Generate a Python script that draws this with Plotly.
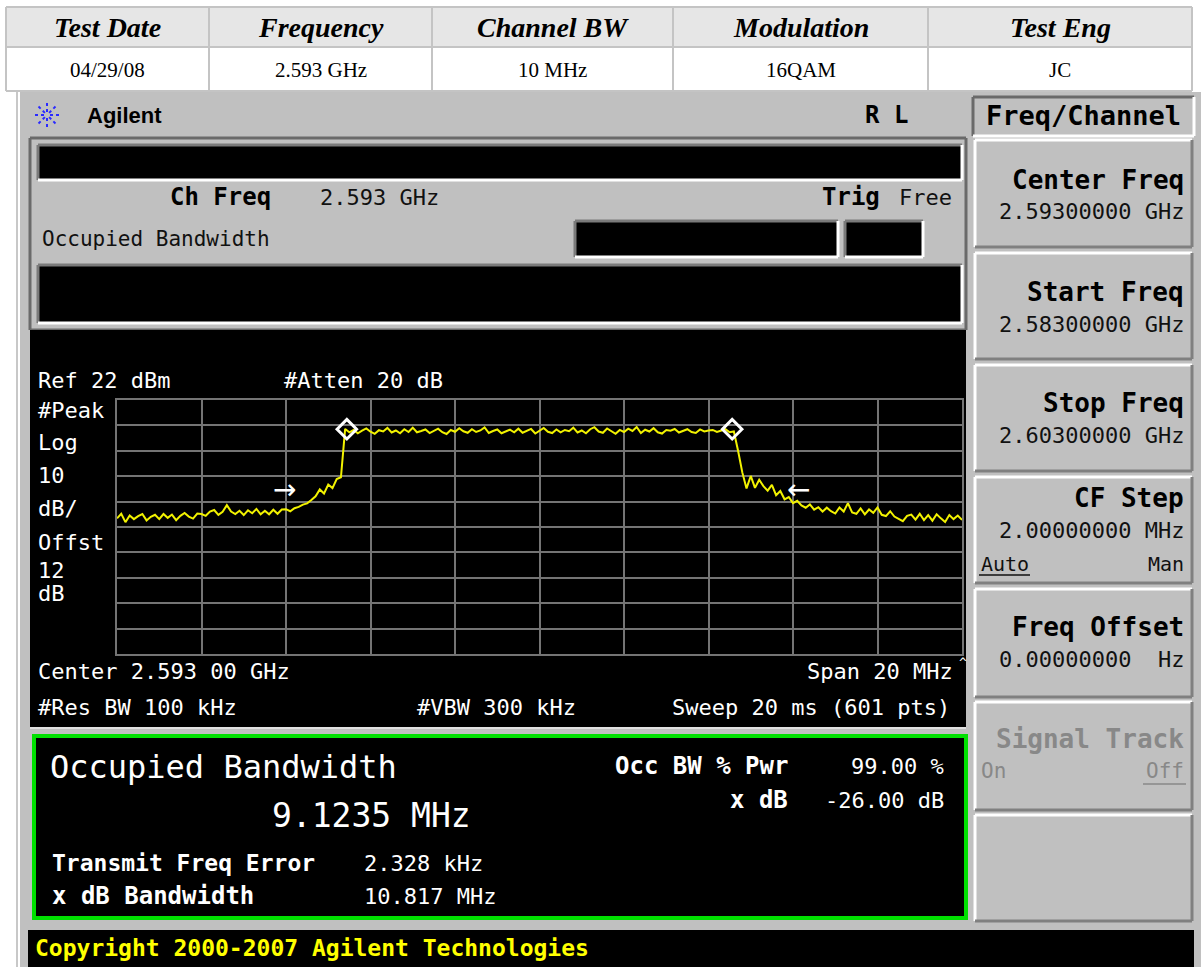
import numpy as np
import plotly.graph_objects as go

W, H = 1201, 967

# ---------------- data ----------------
table_headers = ["Test Date", "Frequency", "Channel BW", "Modulation", "Test Eng"]
table_values = ["04/29/08", "2.593 GHz", "10 MHz", "16QAM", "JC"]

start_freq_ghz = 2.583
stop_freq_ghz = 2.603
ref_level_dbm = 22
db_per_div = 10

trace_dbm = [
    -24.6, -22.8, -26.1, -23.5, -24.9, -23.7, -22.9, -25.4, -24.0, -23.2,
    -24.9, -22.9, -24.4, -23.1, -25.3, -23.6, -22.5, -23.9, -24.7, -22.7,
    -22.9, -23.6, -21.9, -21.3, -23.2, -22.0, -19.4, -21.9, -22.9, -21.6,
    -23.3, -21.4, -22.6, -20.9, -23.0, -21.6, -23.0, -21.2, -22.8, -21.1,
    -21.0, -21.8, -20.6, -20.1, -19.2, -18.7, -17.4, -15.9, -13.2, -14.8,
    -11.3, -12.7, -9.1, -8.4,
    10.6, 9.3, 10.2, 8.9, 9.9, 10.8, 9.5, 8.7, 10.1, 9.6, 11.0, 9.2, 10.0, 8.9, 10.5, 9.4, 11.1, 9.3, 9.8, 10.4,
    9.0, 10.0, 10.7, 9.3, 8.6, 10.2, 9.5, 10.9, 9.7, 9.1, 10.5, 9.4, 10.0, 11.2, 9.0, 9.8, 10.4, 8.9, 9.6, 10.3,
    9.3, 10.7, 9.1, 10.0, 10.6, 8.8, 9.9, 11.0, 9.5, 9.0, 10.4, 9.3, 10.2, 9.7, 11.1, 9.2, 10.0, 8.9, 10.5, 11.3,
    9.6, 9.1, 10.8, 9.9, 8.7, 10.2, 9.4, 10.7, 9.8, 11.4, 9.0, 10.3, 9.6, 10.9, 9.3, 8.8, 10.2, 9.9, 10.6, 9.2,
    9.8, 10.5, 9.4, 9.0, 10.4, 9.6, 10.0, 10.2, 9.4, 9.9, 10.5, 9.3, 9.6,
    2.0, -6.5, -12.8, -7.9, -12.6, -9.4, -11.9, -13.7, -11.4, -15.5,
    -13.8, -17.1, -16.2, -18.6, -17.7, -19.5, -20.4, -19.1, -21.2,
    -20.2, -21.9, -20.4, -21.8, -22.7, -20.3, -21.9, -18.6, -22.3, -22.8,
    -20.7, -23.0, -21.1, -22.4, -20.3, -23.2, -23.7, -21.8, -23.9, -24.8,
    -25.7, -23.6, -23.1, -25.1, -22.8, -25.3, -23.3, -25.5, -23.0, -24.6,
    -26.0, -23.3, -24.9, -23.5, -25.2,
]
freqs_ghz = np.linspace(start_freq_ghz, stop_freq_ghz, len(trace_dbm))

obw_marker_freqs = [2.58844, 2.59756]
obw_marker_levels = [10.5, 10.5]
xdb_arrow_freqs = [2.58697, 2.59912]
xdb_arrow_levels = [-13.4, -13.4]
xdb_arrow_glyphs = ["\u2192", "\u2190"]

softkey_labels = ["Center Freq", "Start Freq", "Stop Freq", "CF Step", "Freq Offset", "Signal Track", ""]
softkey_values = ["2.59300000 GHz", "2.58300000 GHz", "2.60300000 GHz", "2.00000000 MHz",
                  "0.00000000\u00a0\u00a0Hz", "", ""]

# ---------------- helpers ----------------
MONO = "DejaVu Sans Mono"
SERIF = "Liberation Serif, Times New Roman, serif"
SANS = "Liberation Sans, Arial, sans-serif"
GRAY = "#c0c0c0"
DARK = "#7a7a7a"

shapes = []
annotations = []


def X(px):
    return px / W


def Y(py):
    return 1 - py / H


def rect(x0, y0, x1, y1, fill, line=None, lw=0):
    shapes.append(dict(type="rect", xref="paper", yref="paper",
                       x0=X(x0), x1=X(x1), y0=Y(y1), y1=Y(y0),
                       fillcolor=fill, layer="below",
                       line=dict(width=lw, color=line if line else fill)))


def line(x0, y0, x1, y1, color, w=2, dash="solid"):
    shapes.append(dict(type="line", xref="paper", yref="paper",
                       x0=X(x0), x1=X(x1), y0=Y(y0), y1=Y(y1), layer="below",
                       line=dict(width=w, color=color, dash=dash)))


def bevel(x0, y0, x1, y1, tl, br, w=3):
    line(x0, y0, x1, y0, tl, w)
    line(x0, y0, x0, y1, tl, w)
    line(x0, y1, x1, y1, br, w)
    line(x1, y0, x1, y1, br, w)


def text(s, x, y, size, color="black", anchor="left", family=MONO, bold=False):
    if bold:
        s = "<b>" + s + "</b>"
    annotations.append(dict(text=s, xref="paper", yref="paper", x=X(x), y=Y(y),
                            xanchor=anchor, yanchor="middle", showarrow=False,
                            font=dict(family=family, size=size, color=color)))


# ---------------- table ----------------
col_edges = [6, 209, 432, 673, 928, 1192]
rect(col_edges[0], 7, col_edges[-1], 47, "#e6e6e6")
rect(col_edges[0], 47, col_edges[-1], 91, "white")
for xe in col_edges:
    line(xe, 7, xe, 91, "#c4c4c4", 2)
for ye in [7, 47, 91]:
    line(col_edges[0], ye, col_edges[-1], ye, "#c4c4c4", 2)
for i, (hd, val) in enumerate(zip(table_headers, table_values)):
    cx = (col_edges[i] + col_edges[i + 1]) / 2
    text("<i>" + hd + "</i>", cx, 27, 28, "black", "center", SERIF, bold=True)
    text(val, cx, 70, 21, "black", "center", SERIF)

# ---------------- instrument background ----------------
rect(20, 92, 1201, 967, GRAY)
line(17, 92, 17, 967, "#c8c8c8", 2)

# logo
lx, ly = 47, 115
for ang in range(0, 360, 45):
    a = np.deg2rad(ang)
    line(lx + 3 * np.cos(a), ly + 3 * np.sin(a), lx + 12 * np.cos(a), ly + 12 * np.sin(a),
         "#2a2aff", 2, "dot")
text("Agilent", 85, 115, 22, "black", "left", SANS, bold=True)
text("R L", 910, 115, 24, "black", "right", MONO, bold=True)

# upper display panel
rect(30, 137, 966, 330, GRAY)
bevel(30, 138, 966, 330, "#6a6a6a", "#6a6a6a", 3)
rect(38, 145, 962, 179, "black")
bevel(38, 145, 962, 180, DARK, "white", 3)
rect(38, 265, 962, 322, "black")
bevel(38, 265, 962, 323, DARK, "white", 3)
rect(575, 221, 838, 257, "black")
bevel(575, 221, 838, 257, DARK, "white", 3)
rect(845, 221, 923, 257, "black")
bevel(845, 221, 923, 257, DARK, "white", 3)

text("Ch Freq", 273, 197, 24, "black", "right", MONO, bold=True)
text("2.593 GHz", 318, 197, 22, "#111111", "left")
text("Trig", 882, 197, 24, "black", "right", MONO, bold=True)
text("Free", 897, 197, 22, "#111111", "left")
text("Occupied Bandwidth", 40, 239, 21, "#111111", "left")

# black trace area
rect(30, 330, 966, 728, "black")
line(30, 728, 966, 728, "#e0e0e0", 2)

text("Ref 22 dBm", 36, 380, 22, "white")
text("#Atten 20 dB", 282, 380, 22, "white")
for s, yy in [("#Peak", 410), ("Log", 443), ("10", 475), ("dB/", 508),
              ("Offst", 542), ("12", 570), ("dB", 593)]:
    text(s, 36, yy, 22, "white")
text("Center 2.593 00 GHz", 36, 671, 22, "white")
text("Span 20 MHz", 955, 671, 22, "white", "right")
text("^", 957, 662, 13, "white", "left")
text("#Res BW 100 kHz", 36, 707, 22, "white")
text("#VBW 300 kHz", 415, 707, 22, "white")
text("Sweep 20 ms (601 pts)", 952, 707, 22, "white", "right")

# results panel
rect(34, 736, 966, 918, "black", "#00e000", 4)
text("Occupied Bandwidth", 48, 767, 32, "white")
text("9.1235 MHz", 270, 815, 33, "white")
text("Transmit Freq Error", 50, 863, 23, "white", bold=True)
text("x dB Bandwidth", 50, 896, 24, "white", bold=True)
text("2.328 kHz", 362, 863, 22, "white")
text("10.817 MHz", 362, 896, 22, "white")
text("Occ BW % Pwr", 790, 766, 24, "white", "right", bold=True)
text("99.00 %", 946, 766, 22, "white", "right")
text("x dB", 790, 800, 24, "white", "right", bold=True)
text("-26.00 dB", 946, 800, 22, "white", "right")

# copyright bar
rect(28, 930, 1194, 967, "black")
text("Copyright 2000-2007 Agilent Technologies", 33, 948, 23, "#ffff00", bold=True)

# softkeys
rect(973, 97, 1194, 136, GRAY)
bevel(973, 97, 1194, 136, "#6a6a6a", "white", 3)
text("<b>Freq/Channel</b>", 1083, 115, 27, "black", "center")
key_rows = [(140, 247), (253, 359), (365, 471), (477, 583), (589, 697), (702, 810), (815, 921)]
label_dy = [40, 39, 38, 21, 38, 37, 0]
value_dy = [72, 71, 71, 53, 70, 0, 0]
for (ky0, ky1), lab, val, ldy, vdy in zip(key_rows, softkey_labels, softkey_values, label_dy, value_dy):
    bevel(975, ky0, 1192, ky1, "white", "#808080", 3)
    col = "#888888" if lab == "Signal Track" else "black"
    if lab:
        text(lab, 1186, ky0 + ldy, 26, col, "right", MONO, bold=True)
    if val:
        text(val, 1186, ky0 + vdy, 22, "#111111", "right")
text("Auto", 979, 564, 20, "#111111", "left")
line(979, 575, 1030, 575, "#111111", 1.5)
text("Man", 1186, 564, 20, "#111111", "right")
text("On", 979, 771, 21, "#888888", "left")
text("Off", 1186, 771, 21, "#888888", "right")
line(1143, 784, 1186, 784, "#888888", 1.5)

# arrows marking x dB bandwidth
for f, lv, g in zip(xdb_arrow_freqs, xdb_arrow_levels, xdb_arrow_glyphs):
    annotations.append(dict(text=g, x=f, y=lv, xref="x", yref="y", showarrow=False,
                            font=dict(family="DejaVu Sans", size=28, color="white")))

# ---------------- figure ----------------
fig = go.Figure()
fig.add_trace(go.Scatter(x=freqs_ghz, y=trace_dbm, mode="lines",
                         line=dict(color="#f2f200", width=2), hoverinfo="skip"))
fig.add_trace(go.Scatter(x=obw_marker_freqs, y=obw_marker_levels, mode="markers",
                         marker=dict(symbol="diamond-open", size=15, color="white",
                                     line=dict(width=3, color="white"))))

grid_color = "#747474"
fig.update_layout(
    width=W, height=H, margin=dict(l=0, r=0, t=0, b=0),
    paper_bgcolor="white", plot_bgcolor="black", showlegend=False,
    shapes=shapes, annotations=annotations,
    xaxis=dict(domain=[X(117), X(962)], range=[start_freq_ghz, stop_freq_ghz],
               tick0=start_freq_ghz, dtick=(stop_freq_ghz - start_freq_ghz) / 10,
               showgrid=True, gridcolor=grid_color, gridwidth=2, zeroline=False,
               showticklabels=False, ticks="", showline=True, mirror=True,
               linecolor=grid_color, linewidth=2, fixedrange=True),
    yaxis=dict(domain=[Y(654), Y(400)], range=[ref_level_dbm - 10 * db_per_div, ref_level_dbm],
               tick0=ref_level_dbm, dtick=db_per_div,
               showgrid=True, gridcolor=grid_color, gridwidth=2, zeroline=False,
               showticklabels=False, ticks="", showline=True, mirror=True,
               linecolor=grid_color, linewidth=2, fixedrange=True),
)

fig.write_html("out.html", config={"displayModeBar": False},
               post_script="document.body.style.margin='0';document.body.style.overflow='hidden';")
